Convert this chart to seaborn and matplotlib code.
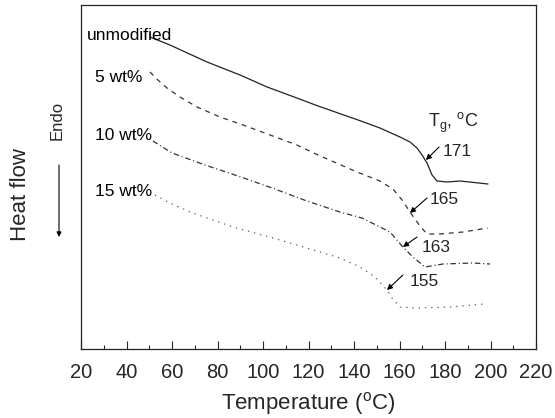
import numpy as np
import matplotlib
matplotlib.use('Agg')
import matplotlib.pyplot as plt
import seaborn as sns

# temperatures (oC) and heat flow (arbitrary units)
t_unmod = [50.3, 59.1, 75.4, 89.9, 101.8, 114.9, 124.2, 141.8, 151.4, 160.2, 164.6,
           167.7, 169.9, 172.1, 174.3, 176.5, 180.9, 186.6, 198.9]
hf_unmod = [31.2, 30.4, 28.7, 27.4, 26.2, 25.1, 24.3, 22.9, 22.1, 21.2, 20.7,
            20.1, 19.4, 18.6, 17.4, 16.8, 16.7, 16.8, 16.5]

t_5 = [50.3, 53.8, 57.8, 63.5, 71.0, 81.1, 91.2, 103.1, 114.9, 124.2, 141.3,
       151.4, 157.1, 161.5, 164.6, 169.0, 172.1, 177.8, 187.9, 198.9]
hf_5 = [27.7, 26.9, 26.1, 25.2, 24.2, 23.2, 22.4, 21.4, 20.4, 19.4, 17.7,
        16.8, 16.0, 14.8, 13.7, 12.3, 11.5, 11.5, 11.7, 12.1]

t_10 = [51.6, 60.0, 74.5, 89.0, 104.0, 119.3, 133.8, 143.5, 155.8, 161.1, 165.9,
        171.2, 179.1, 192.3, 199.8]
hf_10 = [20.8, 19.6, 18.4, 17.3, 16.1, 14.8, 13.7, 13.1, 11.7, 10.3, 9.2,
         8.2, 8.5, 8.6, 8.5]

t_15 = [52.5, 59.1, 67.9, 86.8, 104.4, 119.3, 133.8, 142.6, 149.2, 154.5, 156.7,
        160.2, 168.1, 182.2, 197.1]
hf_15 = [15.4, 14.6, 13.7, 12.2, 11.1, 10.1, 9.1, 8.2, 7.2, 5.9, 5.1,
         4.2, 4.1, 4.2, 4.5]

labels = ['unmodified', '5 wt%', '10 wt%', '15 wt%']
label_pos = [(22.6, 31.4), (26.2, 27.2), (26.2, 21.3), (26.2, 15.7)]

tg_values = ['171', '165', '163', '155']
tg_text = [(179.1, 19.8), (173.4, 14.9), (169.9, 10.15), (164.6, 6.7)]
tg_arrow_from = [(177.4, 20.2), (172.1, 15.1), (167.7, 11.2), (161.5, 7.4)]
tg_arrow_to = [(171.6, 18.9), (164.6, 13.6), (161.5, 10.2), (154.5, 5.9)]

sns.set_style('ticks')
plt.rcParams['font.family'] = ['Liberation Sans', 'DejaVu Sans']
plt.rcParams['mathtext.fontset'] = 'custom'
plt.rcParams['mathtext.rm'] = 'Liberation Sans'
plt.rcParams['mathtext.it'] = 'Liberation Sans'
plt.rcParams['lines.scale_dashes'] = False

fig = plt.figure(figsize=(5.55, 4.18), dpi=100)
ax = fig.add_axes([81 / 555, 1 - 349 / 418, 455 / 555, 344 / 418])

line_kw = dict(ax=ax, lw=0.9, estimator=None, sort=False,
               solid_joinstyle='round', dash_joinstyle='round')
sns.lineplot(x=t_unmod, y=hf_unmod, color='#222222', **line_kw)
sns.lineplot(x=t_5, y=hf_5, color='#333333', linestyle=(0, (3.5, 3.5)), **line_kw)
sns.lineplot(x=t_10, y=hf_10, color='#333333', linestyle=(0, (4, 2, 0.8, 2)), **line_kw)
sns.lineplot(x=t_15, y=hf_15, color='#666666', linestyle=(0, (1, 3.5)), **line_kw)

for lab, (x, y) in zip(labels, label_pos):
    ax.text(x, y, lab, fontsize=12.5, ha='left', va='center', color='black')

ax.text(172.5, 22.2, r'T$_{\mathrm{g}}$, $^{\mathrm{o}}$C', fontsize=13, ha='left', va='baseline')
for val, pos, p0, p1 in zip(tg_values, tg_text, tg_arrow_from, tg_arrow_to):
    ax.text(pos[0], pos[1], val, fontsize=12.5, ha='left', va='center')
    ax.annotate('', xy=p1, xytext=p0,
                arrowprops=dict(arrowstyle='-|>', color='black', lw=0.8,
                                mutation_scale=8, shrinkA=0, shrinkB=0))

ax.set_xlim(20, 220)
ax.set_ylim(0, 34.4)
ax.set_xticks(np.arange(20, 221, 20))
ax.set_xticks(np.arange(30, 220, 20), minor=True)
ax.set_yticks([])
ax.tick_params(axis='x', which='major', direction='in', length=6, width=0.8,
               labelsize=14.5, pad=10, top=False)
ax.tick_params(axis='x', which='minor', direction='in', length=3, width=0.8, top=False)
ax.set_xlabel(r'Temperature ($^{\mathrm{o}}$C)', fontsize=16, labelpad=6)
ax.set_ylabel('')
for s in ax.spines.values():
    s.set_linewidth(0.9)
    s.set_color('#222222')

fig.text(21 / 555, 1 - 195 / 418, 'Heat flow', rotation=90, fontsize=16,
         ha='center', va='center')
fig.text(57 / 555, 1 - 120 / 418, 'Endo', rotation=90, fontsize=12,
         ha='center', va='center')
ax.annotate('', xy=(59 / 555, 1 - 237 / 418), xytext=(59 / 555, 1 - 165 / 418),
            xycoords='figure fraction', textcoords='figure fraction',
            arrowprops=dict(arrowstyle='-|>', color='black', lw=0.8,
                            mutation_scale=7, shrinkA=0, shrinkB=0))

fig.savefig('out.png', dpi=100)
